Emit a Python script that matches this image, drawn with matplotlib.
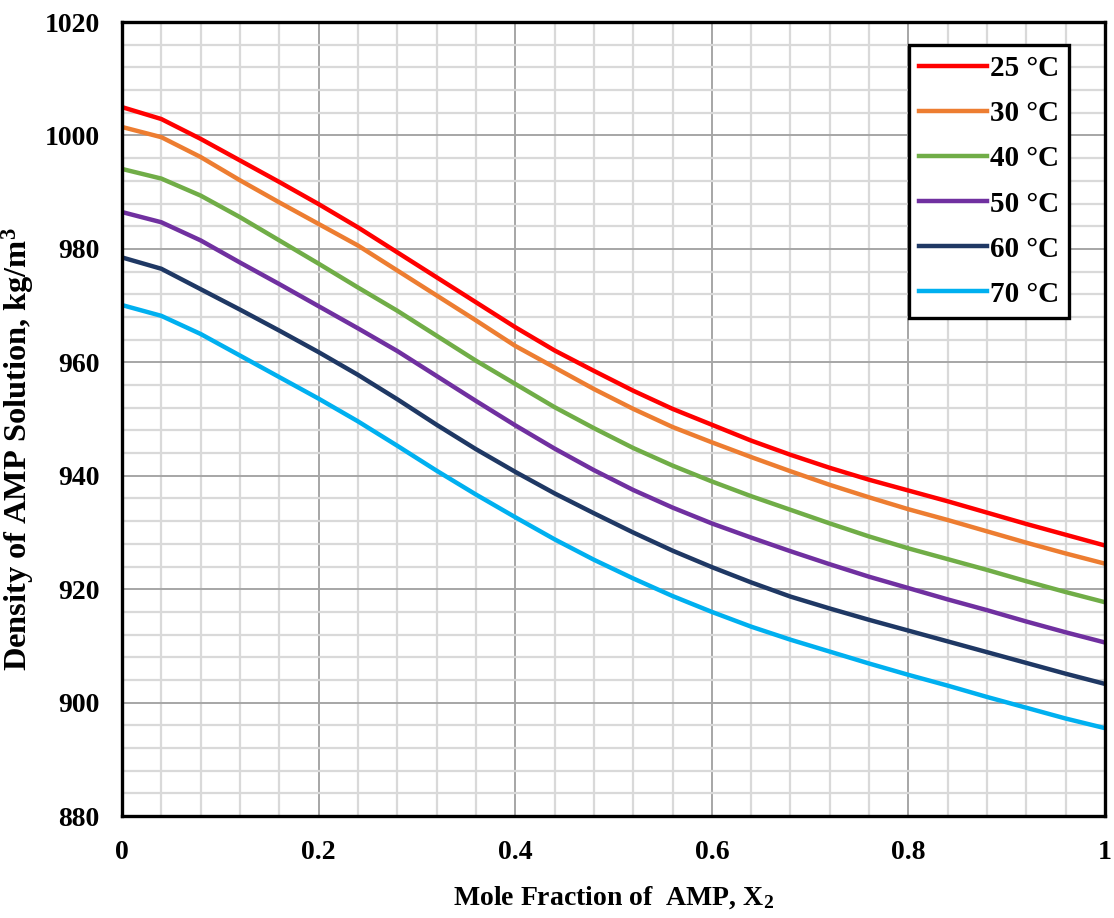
import matplotlib
matplotlib.use("Agg")
import matplotlib.pyplot as plt
from matplotlib.ticker import MultipleLocator

plt.rcParams["font.family"] = ["Liberation Serif", "DejaVu Serif"]
plt.rcParams["font.weight"] = "bold"
plt.rcParams["axes.labelweight"] = "bold"
plt.rcParams["mathtext.fontset"] = "custom"
plt.rcParams["mathtext.rm"] = "Liberation Serif:bold"
plt.rcParams["mathtext.bf"] = "Liberation Serif:bold"
plt.rcParams["mathtext.default"] = "bf"

# mole fraction of AMP, read every 0.04
x2 = [0.00, 0.04, 0.08, 0.12, 0.16, 0.20, 0.24, 0.28, 0.32, 0.36, 0.40, 0.44, 0.48,
      0.52, 0.56, 0.60, 0.64, 0.68, 0.72, 0.76, 0.80, 0.84, 0.88, 0.92, 0.96, 1.00]

rho_25 = [1005.0, 1002.9, 999.4, 995.6, 991.8, 987.9, 983.8, 979.4, 975.0, 970.6, 966.2,
          962.1, 958.5, 955.0, 951.8, 949.0, 946.2, 943.7, 941.4, 939.3, 937.4, 935.5,
          933.5, 931.5, 929.6, 927.7]
rho_30 = [1001.5, 999.7, 996.2, 992.1, 988.2, 984.4, 980.6, 976.2, 971.8, 967.4, 962.9,
          959.1, 955.3, 951.8, 948.6, 945.9, 943.3, 940.8, 938.4, 936.2, 934.1, 932.2,
          930.2, 928.2, 926.3, 924.5]
rho_40 = [994.1, 992.4, 989.4, 985.6, 981.5, 977.4, 973.2, 969.1, 964.7, 960.3, 956.2,
          952.1, 948.4, 944.9, 941.8, 939.0, 936.4, 934.0, 931.6, 929.3, 927.2, 925.3,
          923.4, 921.4, 919.5, 917.7]
rho_50 = [986.5, 984.7, 981.5, 977.6, 973.8, 969.9, 966.0, 962.0, 957.6, 953.2, 948.9,
          944.8, 941.0, 937.5, 934.4, 931.6, 929.1, 926.7, 924.4, 922.2, 920.2, 918.2,
          916.3, 914.3, 912.4, 910.6]
rho_60 = [978.5, 976.5, 972.9, 969.3, 965.6, 961.8, 957.8, 953.5, 949.0, 944.7, 940.7,
          936.9, 933.4, 930.0, 926.8, 923.9, 921.2, 918.7, 916.6, 914.6, 912.7, 910.8,
          908.9, 907.0, 905.1, 903.3]
rho_70 = [970.1, 968.2, 965.0, 961.2, 957.4, 953.6, 949.6, 945.3, 940.9, 936.7, 932.7,
          928.8, 925.2, 921.9, 918.8, 916.0, 913.4, 911.1, 909.0, 906.9, 904.9, 903.0,
          901.0, 899.1, 897.2, 895.5]

labels = ["25 °C", "30 °C", "40 °C", "50 °C", "60 °C", "70 °C"]
colors = ["#FF0000", "#ED7D31", "#70AD47", "#7030A0", "#1F3864", "#00B0F0"]
series = [rho_25, rho_30, rho_40, rho_50, rho_60, rho_70]

x_ticks = [0, 0.2, 0.4, 0.6, 0.8, 1.0]
x_ticklabels = ["0", "0.2", "0.4", "0.6", "0.8", "1"]

fig = plt.figure(figsize=(11.14, 9.18), dpi=100)
ax = fig.add_axes([0.1095, 0.111, 0.8825, 0.865])

for rho, c, lab in zip(series, colors, labels):
    ax.plot(x2, rho, color=c, lw=3.2, label=lab, solid_joinstyle="round", zorder=3)

ax.set_xlim(0, 1)
ax.set_ylim(880, 1020)
ax.set_xticks(x_ticks)
ax.set_xticklabels(x_ticklabels)
ax.xaxis.set_minor_locator(MultipleLocator(0.04))
ax.yaxis.set_major_locator(MultipleLocator(20))
ax.yaxis.set_minor_locator(MultipleLocator(4))

ax.grid(which="minor", color="#D9D9D9", lw=1.6, zorder=0)
ax.grid(which="major", color="#A6A6A6", lw=1.4, zorder=1)
ax.set_axisbelow(True)
ax.tick_params(which="both", length=0, labelsize=20)
ax.tick_params(axis="x", pad=17)
ax.tick_params(axis="y", pad=16)

for s in ax.spines.values():
    s.set_linewidth(2.4)
    s.set_color("black")
    s.set_zorder(5)

ax.set_xlabel("Mole Fraction of  AMP, X$_2$", fontsize=20, labelpad=14)
ax.set_ylabel("Density of AMP Solution, kg/m$^3$", fontsize=23.3)
ax.yaxis.set_label_coords(-0.087, 0.462)

leg = ax.legend(loc="upper right", bbox_to_anchor=(0.9634, 0.971), borderaxespad=0,
                fontsize=21, handlelength=2.35, handletextpad=0.08, labelspacing=0.62,
                borderpad=0.35, fancybox=False, framealpha=1, edgecolor="black")
leg.get_frame().set_linewidth(2.4)

fig.savefig("out.png", dpi=100)
